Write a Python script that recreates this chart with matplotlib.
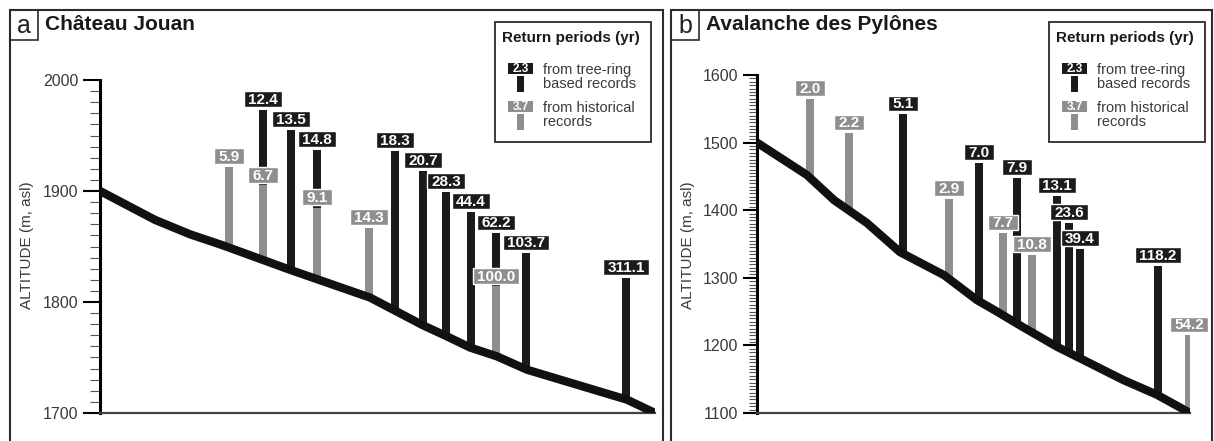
import numpy as np
import matplotlib
matplotlib.use("Agg")
import matplotlib.pyplot as plt
from matplotlib.patches import Rectangle
from matplotlib.path import Path
from matplotlib.ticker import FixedLocator

plt.rcParams["font.family"] = ["Liberation Sans", "DejaVu Sans"]

# ---- data -------------------------------------------------------------
# a) Chateau Jouan : terrain profile (horizontal distance, altitude m asl)
a_terrain_x = [0, 55, 90, 123, 190, 270, 323, 347, 370, 397, 427, 527, 555]
a_terrain_z = [1900, 1874, 1861, 1851, 1829, 1804, 1779, 1769, 1759, 1751, 1739, 1712, 1700]
# runout bars: position, altitude reached, return period, source (t = tree-ring, h = historical)
a_x = [129, 163, 163, 191, 217, 217, 269, 295, 323, 346, 371, 396, 396, 426, 526]
a_top = [1922, 1973, 1905, 1955, 1937, 1885, 1867, 1936, 1918, 1899, 1881, 1862, 1814, 1844, 1822]
a_rp = ["5.9", "12.4", "6.7", "13.5", "14.8", "9.1", "14.3", "18.3", "20.7",
        "28.3", "44.4", "62.2", "100.0", "103.7", "311.1"]
a_src = ["h", "t", "h", "t", "t", "h", "h", "t", "t", "t", "t", "t", "h", "t", "t"]

# b) Avalanche des Pylones
b_terrain_x = [0, 50, 77, 110, 143, 187, 220, 240, 266, 300, 323, 366, 400, 433]
b_terrain_z = [1500, 1452, 1415, 1381, 1338, 1304, 1267, 1250, 1227, 1198, 1181, 1149, 1127, 1100]
b_x = [53, 92, 146, 192, 222, 246, 260, 275, 300, 312, 323, 401, 432]
b_top = [1565, 1514, 1542, 1417, 1470, 1366, 1448, 1334, 1421, 1381, 1343, 1318, 1215]
b_rp = ["2.0", "2.2", "5.1", "2.9", "7.0", "7.7", "7.9", "10.8", "13.1", "23.6", "39.4", "118.2", "54.2"]
b_src = ["h", "h", "t", "h", "t", "h", "t", "h", "t", "t", "t", "t", "h"]

BLACK = "#1b1b1b"
GRAY = "#8e8e8e"
TXT = "#3a3a3a"
W, H = 1214, 441

fig = plt.figure(figsize=(W / 100, H / 100), dpi=100)
fig.patch.set_facecolor("white")


def tight_box(x0, y0, width, height, mutation_size):
    # label box: wide horizontally, tight vertically
    px = 0.28 * mutation_size
    x1, x2 = x0 - px, x0 + width + px
    y1, y2 = y0, y0 + height + 0.12 * mutation_size
    return Path([(x1, y1), (x2, y1), (x2, y2), (x1, y2), (x1, y1)], closed=True)


def rect(x0, y0, x1, y1, **kw):
    fig.add_artist(Rectangle((x0 / W, 1 - y1 / H), (x1 - x0) / W, (y1 - y0) / H,
                             transform=fig.transFigure, **kw))


def ftext(x, y, s, **kw):
    fig.text(x / W, 1 - y / H, s, **kw)


def panel(ax, tx, tz, bx, btop, brp, bsrc, ymin, ymaxtick, ytop, xmax, minor, majlen, minlen):
    ax.set_xlim(0, xmax)
    ax.set_ylim(ymin, ytop)
    bx = np.array(bx, float)
    btop = np.array(btop, float)
    ground = np.interp(bx, tx, tz)
    for src, col in (("t", BLACK), ("h", GRAY)):
        idx = [i for i, s in enumerate(bsrc) if s == src]
        ax.bar(bx[idx], (btop - ground)[idx], bottom=ground[idx], width=8.5,
               color=col, linewidth=0, zorder=2)
    ax.plot(tx, tz, color="#111111", lw=6, solid_capstyle="butt",
            solid_joinstyle="round", zorder=3)
    for i in range(len(bx)):
        col = BLACK if bsrc[i] == "t" else GRAY
        ax.annotate(brp[i], (bx[i], btop[i]), xytext=(0, 2.0), textcoords="offset points",
                    ha="center", va="bottom", fontsize=11, fontweight="bold", color="white",
                    bbox=dict(boxstyle=tight_box, fc=col, ec="white", lw=1), zorder=4)

    for s in ("top", "right"):
        ax.spines[s].set_visible(False)
    ax.spines["left"].set_bounds(ymin, ymaxtick)
    ax.spines["left"].set_linewidth(2.2)
    ax.spines["bottom"].set_bounds(0, xmax)
    ax.spines["bottom"].set_linewidth(1.6)
    ax.spines["bottom"].set_color("#444444")
    ax.set_xticks([])
    ax.set_yticks(np.arange(ymin, ymaxtick + 1, 100))
    minors = [v for v in np.arange(ymin, ymaxtick + 0.1, minor) if v % 100 != 0]
    ax.yaxis.set_minor_locator(FixedLocator(minors))
    ax.tick_params(axis="y", which="major", length=majlen, width=1.5, color="black",
                   labelsize=11.5, labelcolor=TXT, pad=3.5)
    ax.tick_params(axis="y", which="minor", length=minlen, width=0.8, color="#555555")
    ax.set_facecolor("none")


axA = fig.add_axes([100 / W, 1 - 413 / H, 555 / W, 403 / H])
panel(axA, a_terrain_x, a_terrain_z, a_x, a_top, a_rp, a_src,
      1700, 2000, 1700 + 403 / 1.11, 555, 10, 12, 7)

axB = fig.add_axes([757 / W, 1 - 413 / H, 433 / W, 403 / H])
panel(axB, b_terrain_x, b_terrain_z, b_x, b_top, b_rp, b_src,
      1100, 1600, 1100 + 403 / 0.676, 433, 5, 10, 6)

# y labels
ftext(27, 245, "ALTITUDE (m, asl)", rotation=90, ha="center", va="center",
      fontsize=11, color=TXT)
ftext(688, 245, "ALTITUDE (m, asl)", rotation=90, ha="center", va="center",
      fontsize=11, color=TXT)

# panel frames and titles
for x0, x1, letter, title in ((10, 663, "a", "Château Jouan"),
                              (671, 1212, "b", "Avalanche des Pylônes")):
    rect(x0, 10, x1, 460, fill=False, ec="#2b2b2b", lw=1.5, clip_on=False)
    rect(x0, 10, x0 + 28, 40, fill=False, ec="#2b2b2b", lw=1.2)
    ftext(x0 + 14, 26, letter, ha="center", va="center", fontsize=18, color="#222222")
    ftext(x0 + 35, 25, title, ha="left", va="center", fontsize=15,
          fontweight="bold", color="#1a1a1a")

# legends
for L in (495, 1049):
    rect(L, 22, L + 156, 142, fc="white", ec="#2b2b2b", lw=1.3)
    ftext(L + 7, 38, "Return periods (yr)", ha="left", va="center", fontsize=11,
          fontweight="bold", color="#1a1a1a")
    for y0, col, lab, txt in ((63, BLACK, "2.3", "from tree-ring\nbased records"),
                              (101, GRAY, "3.7", "from historical\nrecords")):
        rect(L + 13, y0, L + 38, y0 + 11, fc=col, ec="none")
        ftext(L + 25.5, y0 + 5.8, lab, ha="center", va="center", fontsize=8.5,
              fontweight="bold", color="white")
        rect(L + 22, y0 + 13, L + 29, y0 + 29, fc=col, ec="none")
        ftext(L + 48, y0 + 14, txt, ha="left", va="center", fontsize=10.5,
              color=TXT, linespacing=0.95)

fig.savefig("out.png", dpi=100, facecolor="white")
